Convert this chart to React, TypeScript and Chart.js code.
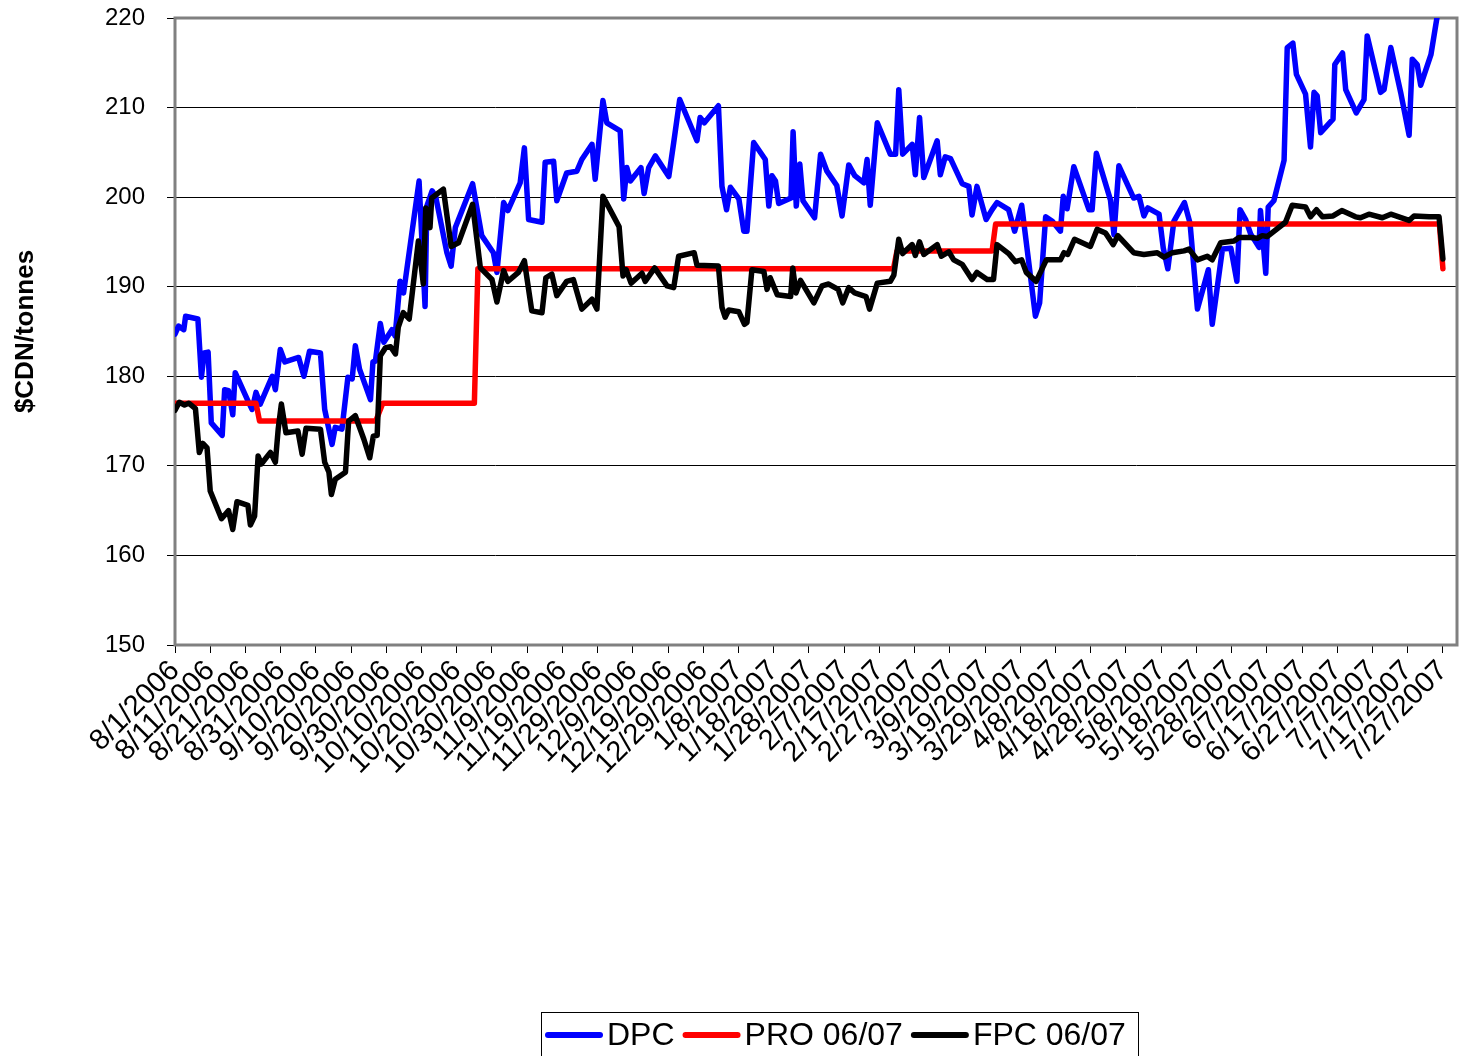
import React, { useEffect, useRef } from 'react';
import { Chart, registerables } from 'chart.js';

Chart.register(...registerables);

const FONT = '"Liberation Sans", Arial, sans-serif';

// x values are days counted from 8/1/2006
const xTickLabels = [
  '8/1/2006', '8/11/2006', '8/21/2006', '8/31/2006', '9/10/2006', '9/20/2006', '9/30/2006',
  '10/10/2006', '10/20/2006', '10/30/2006', '11/9/2006', '11/19/2006', '11/29/2006', '12/9/2006',
  '12/19/2006', '12/29/2006', '1/8/2007', '1/18/2007', '1/28/2007', '2/7/2007', '2/17/2007',
  '2/27/2007', '3/9/2007', '3/19/2007', '3/29/2007', '4/8/2007', '4/18/2007', '4/28/2007',
  '5/8/2007', '5/18/2007', '5/28/2007', '6/7/2007', '6/17/2007', '6/27/2007', '7/7/2007',
  '7/17/2007', '7/27/2007',
];
const yTickValues = [150, 160, 170, 180, 190, 200, 210, 220];

const seriesNames = ['DPC', 'PRO 06/07', 'FPC 06/07'];

const dpcDays = [
  0, 1, 2.5, 3, 6.5, 7.5, 8.3, 9.4, 10.3, 13.4, 14.1, 15.2, 16.4, 17.1, 20.9, 21.9, 23, 24.2, 27.6, 28.5,
  29.9, 31.2, 35.1, 36.6, 38.2, 41.3, 42.5, 44.6, 45.5, 47.4, 49.1, 50.3, 51.2, 52.4, 55.5, 56.2, 56.9, 58.3, 59.3, 61.6,
  62.5, 63.9, 64.9, 69.3, 71, 71.5, 73, 74, 77.2, 78.4, 79.6, 84.5, 87.1, 90.4, 91.4, 93.3, 94.5, 98, 99.2, 100.4,
  104.2, 105.1, 107.5, 108.4, 111.2, 114.1, 115.5, 118.4, 119.3, 121.5, 122.6, 126.4, 127.4, 128.3, 129.3, 132.3, 133.2, 134.5, 136.4, 140.2,
  141.6, 143.3, 148.2, 149.1, 150.3, 154.3, 155.3, 156.6, 157.7, 160.1, 161.5, 162.4, 164.3, 167.6, 168.6, 169.5, 170.5, 171.4, 174.9, 175.5,
  176.4, 177.4, 178.3, 181.6, 183.3, 185.1, 187.9, 189.4, 191.3, 193, 195.6, 196.5, 197.4, 199.4, 203.1, 204.6, 205.5, 206.6, 209.3, 210.2,
  211.4, 212.6, 216.4, 217.3, 218.7, 220.2, 223.5, 225.4, 226.3, 227.7, 230.3, 232, 233.4, 236.7, 238.4, 240.4, 244.3, 245.5, 247.2, 249.1,
  251.4, 252.2, 253.3, 255.2, 259.5, 260.4, 261.6, 265.6, 266.6, 268, 272.2, 273.7, 275.1, 276.2, 279.4, 280.6, 281.9, 283.6, 286.6, 288.2,
  290.3, 293.4, 294.5, 297.4, 299.8, 301.5, 302.4, 304, 305.4, 307.8, 308.2, 309.7, 310.4, 312, 314.9, 315.8, 317.4, 318.4, 321, 322.4,
  323.4, 324.3, 325.3, 328.8, 329.3, 331.5, 332.4, 335.4, 337.6, 338.5, 342.3, 343.3, 345.2, 348, 350.4, 351.3, 352.7, 353.7, 356.6, 358.5,
  360,
];
const dpcValues = [
  184.7, 185.6, 185.2, 186.7, 186.4, 179.9, 182.6, 182.7, 174.8, 173.4, 178.5, 178.4, 175.7, 180.4, 177.1, 176.3, 178.2, 176.9, 180, 178.5,
  183, 181.6, 182.1, 180, 182.8, 182.6, 176.3, 172.4, 174.3, 174.1, 179.9, 179.7, 183.4, 180.8, 177.4, 181.6, 181.7, 185.9, 183.8, 185.2,
  184.5, 190.6, 189.3, 201.8, 187.8, 199, 200.7, 200.1, 193.8, 192.3, 196.6, 201.5, 195.7, 193.8, 191.6, 199.4, 198.5, 201.6, 205.5, 197.5,
  197.2, 203.9, 204, 199.6, 202.7, 202.9, 204.2, 205.9, 202, 210.8, 208.3, 207.4, 199.8, 203.3, 201.8, 203.3, 200.4, 203.3, 204.6, 202.3,
  206.1, 210.9, 206.3, 208.9, 208.3, 210.2, 201.2, 198.6, 201.1, 199.8, 196.2, 196.2, 206.1, 204.2, 199, 202.4, 201.8, 199.3, 199.9, 207.3,
  199, 203.7, 199.6, 197.7, 204.8, 202.9, 201.3, 197.9, 203.6, 202.4, 201.6, 204.2, 199.1, 208.3, 204.8, 204.8, 212, 204.8, 205.9, 202.5,
  208.9, 202.2, 206.3, 202.5, 204.5, 204.3, 201.5, 201.2, 198, 201.2, 197.5, 198.6, 199.4, 198.6, 196.2, 199.1, 186.7, 188.2, 197.8, 197.3,
  196.2, 200.1, 198.7, 203.4, 198.6, 198.6, 204.9, 199.7, 195.8, 203.5, 199.9, 200.1, 197.9, 198.8, 198.1, 194.3, 192, 197.3, 199.4, 197.1,
  187.5, 191.9, 185.8, 194.2, 194.3, 190.6, 198.6, 197.5, 195.9, 194.4, 198.5, 191.5, 198.9, 199.6, 204.1, 216.7, 217.2, 213.7, 211.5, 205.6,
  211.7, 211.3, 207.2, 208.7, 214.8, 216.1, 212, 209.4, 210.9, 218, 211.7, 212, 216.7, 211.7, 206.9, 215.4, 214.8, 212.5, 215.9, 220.5,
  223,
];

const proDays = [0, 23, 24, 57, 59, 85, 86, 204, 205, 232, 233, 359, 360];
const proValues = [177, 177, 175, 175, 177, 177, 192, 192, 194, 194, 197, 197, 192];

const fpcDays = [
  0, 1.2, 2.7, 3.9, 5.8, 6.9, 7.9, 9.1, 10, 13.2, 15.2, 16.4, 17.6, 20.7, 21.4, 22.6, 23.6, 24.5, 27.1, 28.5,
  29.3, 30.2, 31.5, 34.9, 36.1, 37.2, 41.3, 42.5, 43.7, 44.4, 45.5, 48.4, 49.3, 51.2, 53.6, 55.3, 56.3, 57.4, 58.3, 59.8,
  61.2, 62.6, 63.4, 64.8, 66.5, 69.1, 70.5, 71.2, 72.4, 72.9, 76.2, 78.4, 80.5, 84.5, 86.7, 90, 91.4, 93.3, 94.5, 97.5,
  99.2, 101.3, 104.2, 105.3, 107, 108.4, 111.2, 113.1, 115.5, 118.4, 119.8, 121.5, 124.2, 126.1, 127.2, 128.1, 129.5, 131.2, 132.6, 133.5,
  136.2, 139.7, 141.6, 143, 147.4, 148.2, 154.3, 155.3, 156.2, 157.2, 160.1, 161.7, 162.4, 163.8, 167.2, 168.1, 169, 171, 174.8, 175.4,
  176.3, 177.6, 181.4, 183.7, 185.6, 188.3, 189.6, 191.3, 193, 196.2, 197.2, 199.4, 203.1, 204.1, 205.5, 206.6, 209.3, 210.2, 211.4, 212.6,
  216.4, 217.6, 219.7, 221.1, 223.5, 226.3, 227.7, 230.6, 232.4, 233.4, 236.7, 238.6, 240.4, 241.7, 244.5, 247.4, 251.4, 252.4, 253.5, 255.4,
  259.9, 261.8, 264.2, 266.4, 267.7, 272.2, 275.1, 278.9, 280.8, 283.2, 286.5, 287.9, 290.3, 293.1, 294.5, 296.9, 300.7, 302.1, 305.4, 307.3,
  308.7, 310.1, 315.3, 317.2, 321, 322.4, 324.1, 325.8, 328.8, 331.3, 335.2, 336.6, 339, 342.8, 345.2, 350.4, 351.8, 356.1, 358.9, 360,
];
const fpcValues = [
  176.2, 177.1, 176.8, 177, 176.4, 171.5, 172.5, 172, 167.2, 164.1, 165, 162.9, 166, 165.6, 163.4, 164.4, 171.1, 170.2, 171.5, 170.4,
  174.1, 176.9, 173.7, 173.9, 171.3, 174.2, 174.1, 170.4, 169.3, 166.8, 168.5, 169.3, 175, 175.6, 173, 170.9, 173.3, 173.4, 182.3, 183.2,
  183.3, 182.5, 185.5, 187.1, 186.4, 195.1, 190.3, 198.8, 196.6, 199.9, 200.9, 194.5, 194.9, 199.2, 192.1, 190.8, 188.3, 191.8, 190.6, 191.6,
  192.9, 187.3, 187.1, 191, 191.4, 189, 190.6, 190.8, 187.5, 188.6, 187.5, 200.1, 198.1, 196.7, 191.2, 191.9, 190.4, 191, 191.5, 190.6,
  192.1, 190.1, 189.9, 193.4, 193.8, 192.4, 192.3, 187.7, 186.6, 187.4, 187.2, 185.8, 186, 191.9, 191.7, 189.7, 191, 189.1, 188.9, 192.1,
  189.3, 190.7, 188.2, 190.1, 190.3, 189.7, 188.2, 189.9, 189.3, 188.9, 187.5, 190.4, 190.6, 191.3, 195.3, 193.7, 194.7, 193.5, 195, 193.6,
  194.7, 193.4, 193.9, 193, 192.5, 190.8, 191.6, 190.8, 190.8, 194.7, 193.7, 192.8, 193, 191.6, 190.6, 193, 193, 193.8, 193.6, 195.3,
  194.5, 196.4, 196, 194.7, 195.7, 193.8, 193.6, 193.8, 193.3, 193.8, 194, 194.2, 193, 193.4, 193, 194.9, 195.1, 195.5, 195.5, 195.4,
  195.7, 195.6, 197.2, 199.1, 198.9, 197.8, 198.6, 197.8, 197.9, 198.5, 197.8, 197.7, 198.1, 197.7, 198.1, 197.4, 197.9, 197.8, 197.8, 193.1,
];

const seriesColors = ['#0000FF', '#FF0000', '#000000'];

const toPoints = (days: number[], values: number[]) => days.map((d, i) => ({ x: d, y: values[i] }));

const frameAndLegend = {
  id: 'frameAndLegend',
  beforeDatasetsDraw(chart: any) {
    const { ctx, chartArea: a } = chart;
    ctx.save();
    ctx.strokeStyle = '#808080';
    ctx.lineWidth = 3;
    ctx.strokeRect(a.left, a.top, a.right - a.left, a.bottom - a.top);
    ctx.restore();
  },
  afterDraw(chart: any) {
    const { ctx } = chart;
    const ds = chart.data.datasets;
    ctx.save();
    const boxL = 541, boxR = 1138, boxT = 1012;
    ctx.strokeStyle = '#000';
    ctx.lineWidth = 1;
    ctx.strokeRect(boxL + 0.5, boxT + 0.5, boxR - boxL, 60);
    ctx.font = `32px ${FONT}`;
    ctx.textBaseline = 'middle';
    ctx.textAlign = 'left';
    const lineLen = 58, gap = 4, itemGap = 8;
    const cy = 1035;
    let x = 545;
    ds.forEach((d: any) => {
      ctx.strokeStyle = d.borderColor;
      ctx.lineWidth = 6;
      ctx.lineCap = 'round';
      ctx.beginPath();
      ctx.moveTo(x + 3, cy);
      ctx.lineTo(x + lineLen - 3, cy);
      ctx.stroke();
      x += lineLen + gap;
      ctx.fillStyle = '#000';
      ctx.fillText(d.label, x, cy + 1);
      x += ctx.measureText(d.label).width + itemGap;
    });
    ctx.restore();
  },
};

export default function App() {
  const ref = useRef<HTMLCanvasElement | null>(null);

  useEffect(() => {
    if (!ref.current) return;
    const yFont = { family: FONT, size: 24 };
    const xFont = { family: FONT, size: 29 };
    const chart = new Chart(ref.current, {
      type: 'line',
      data: {
        datasets: [
          { label: seriesNames[0], data: toPoints(dpcDays, dpcValues), order: 3 },
          { label: seriesNames[1], data: toPoints(proDays, proValues), order: 2 },
          { label: seriesNames[2], data: toPoints(fpcDays, fpcValues), order: 1 },
        ].map((d, i) => ({
          ...d,
          borderColor: seriesColors[i],
          backgroundColor: seriesColors[i],
          borderWidth: 5.5,
          pointRadius: 0,
          pointHoverRadius: 0,
          tension: 0,
          borderJoinStyle: 'round' as const,
          borderCapStyle: 'round' as const,
        })),
      },
      options: {
        animation: false,
        responsive: false,
        devicePixelRatio: 1,
        events: [],
        layout: { padding: { left: 0, top: 18, right: 10, bottom: 0 } },
        plugins: { legend: { display: false }, tooltip: { enabled: false }, title: { display: false } },
        scales: {
          x: {
            type: 'linear',
            min: 0,
            max: 364,
            bounds: 'data',
            ticks: {
              stepSize: 10,
              autoSkip: false,
              maxRotation: 45,
              minRotation: 45,
              font: xFont,
              color: '#000',
              padding: 1,
              callback: (v: any) => xTickLabels[Math.round(Number(v) / 10)] ?? '',
            },
            afterBuildTicks: (s: any) => {
              s.ticks = s.ticks.filter((t: any) => t.value % 10 === 0 && t.value <= 360);
            },
            grid: { drawOnChartArea: false, drawTicks: true, tickLength: 8, tickColor: '#000', color: '#000' },
            border: { display: false },
            afterFit: (s: any) => {
              s.height = 1056 - 645;
              s.paddingRight = 0;
            },
          },
          y: {
            min: yTickValues[0],
            max: yTickValues[yTickValues.length - 1],
            ticks: { stepSize: 10, font: yFont, color: '#000', padding: 22 },
            grid: { color: '#000', lineWidth: 1, tickLength: 8, tickColor: '#000' },
            border: { display: false },
            title: {
              display: true,
              text: '$CDN/tonnes',
              color: '#000',
              font: { family: FONT, size: 26, weight: 'bold' },
              padding: { top: 10, bottom: 0 },
            },
            afterFit: (s: any) => {
              s.width = 175;
              s.paddingTop = 0;
              s.paddingBottom = 0;
            },
          },
        },
      },
      plugins: [frameAndLegend],
    } as any);
    return () => chart.destroy();
  }, []);

  return (
    <div style={{ position: 'absolute', left: 0, top: 0, width: 1467, height: 1056 }}>
      <canvas ref={ref} width={1467} height={1056} style={{ width: 1467, height: 1056, display: 'block' }} />
    </div>
  );
}
